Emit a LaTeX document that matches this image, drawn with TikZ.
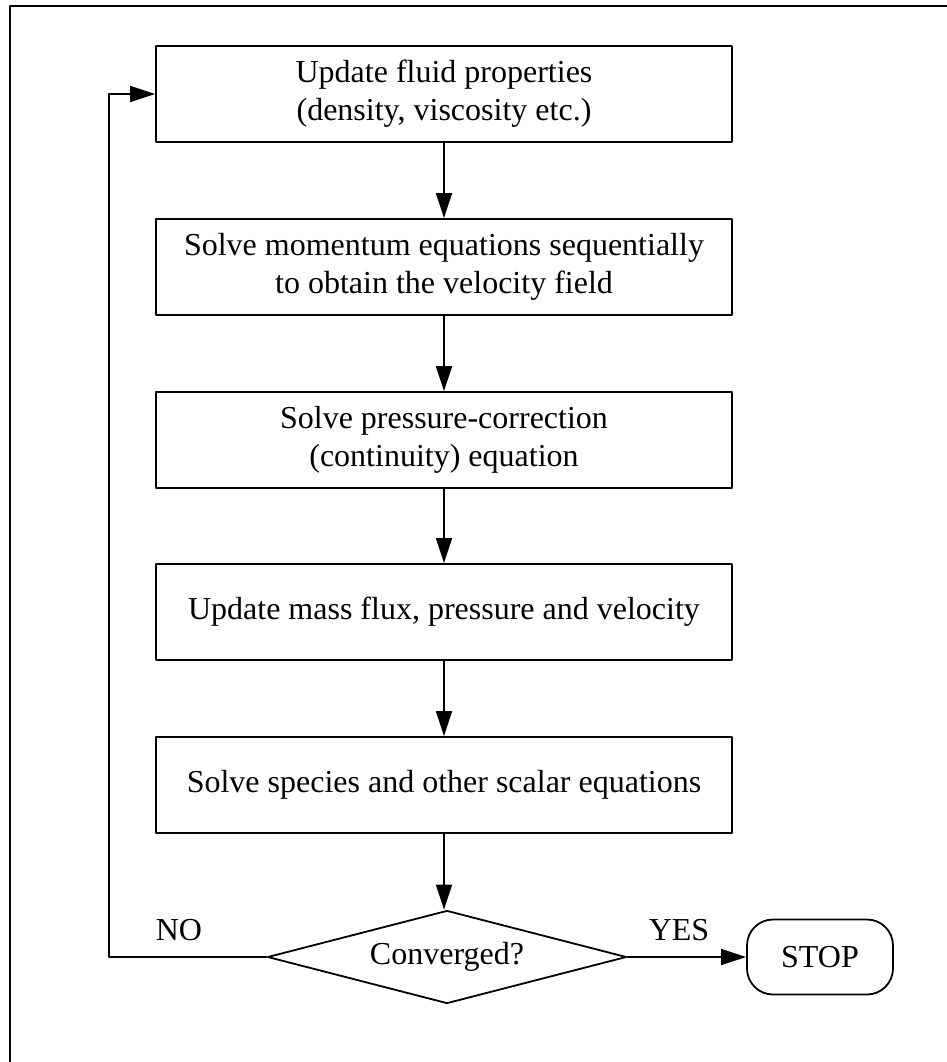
\documentclass[tikz,border=0pt]{standalone}
\usepackage{fontspec}
\setmainfont{Liberation Serif}
\usetikzlibrary{arrows.meta,shapes.geometric}
\begin{document}
\begin{tikzpicture}[x=0.5pt, y=-0.5pt, font=\fontsize{16}{19}\selectfont, line width=0.9pt, line join=round, >={Triangle[length=12.5pt,width=8pt]}]
	\tikzset{
		stepbox/.style={draw, minimum width=288pt, minimum height=48pt, align=center, inner sep=0pt},
		testbox/.style={draw, diamond, aspect=3.86, minimum width=179.5pt, minimum height=46.5pt, inner sep=0pt},
		stopbox/.style={draw, rounded corners=13pt, minimum width=73pt, minimum height=37.5pt, inner sep=0pt}
	}
	\useasboundingbox (0,0) rectangle (947,1062);
	\draw (10,1062) -- (10,6) -- (947,6);
	\path
	(444,94) node[stepbox] (fluid) {Update fluid properties\\(density, viscosity etc.)}
	(444,267) node[stepbox] (momentum) {Solve momentum equations sequentially\\to obtain the velocity field}
	(444,440) node[stepbox] (pressure) {Solve pressure-correction\\(continuity) equation}
	(444,612) node[stepbox] (update) {Update mass flux, pressure and velocity}
	(444,785) node[stepbox] (species) {Solve species and other scalar equations}
	(447,957) node[testbox] (conv) {Converged?}
	(820,957) node[stopbox] (stop) {STOP}
	(109,957) coordinate (back)
	;
	\draw[->] (fluid) -- (momentum);
	\draw[->] (momentum) -- (pressure);
	\draw[->] (pressure) -- (update);
	\draw[->] (update) -- (species);
	\draw[->] (species.south) -- (species.south |- conv.north);
	\draw[->] (conv.east) -- (stop.west);
	\draw[->] (conv.west) -- (back) |- (fluid.west);
	\node (no) at (179,930) {NO};
	\node (yes) at (679,930) {YES};
\end{tikzpicture}
\end{document}
